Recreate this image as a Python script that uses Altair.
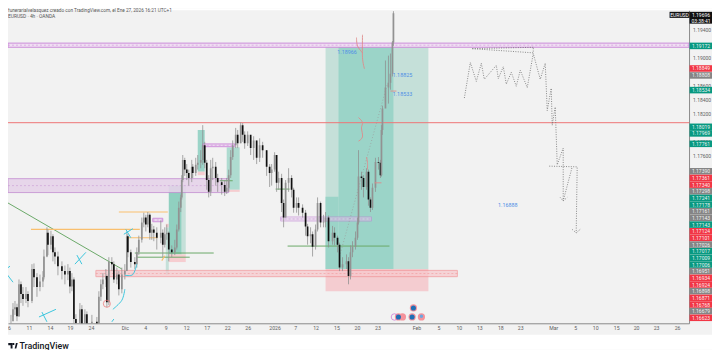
import altair as alt
import pandas as pd

FONT = "Roboto"

# ---------- scale extents ----------
slot_domain = [8, 690]
price_domain = [1.15179, 1.19683]

# ---------- time axis ----------
tick_slots = [9, 29, 50, 70, 91, 125, 145.5, 166, 186.5, 207, 227.5, 248, 275, 295.5, 316, 337, 357.5, 378,
              417, 439, 459.5, 480, 501, 521, 554, 576, 596, 617, 637, 657, 678]
tick_labels = ["6", "11", "14", "19", "24", "Dic", "4", "9", "12", "17", "22", "26", "2026", "7", "12", "15", "20", "23",
               "Feb", "5", "10", "13", "18", "23", "Mar", "5", "10", "15", "20", "23", "26"]
price_ticks = [1.194, 1.19, 1.186, 1.184, 1.182, 1.178, 1.176]

# ---------- candles ----------
candle_x = [11, 13, 15, 17, 19, 21, 23, 26, 28, 32, 34, 37, 40, 43, 44, 47, 48, 51, 53, 55, 58, 62, 65, 68, 70, 72, 74, 76,
            80, 82, 85, 87, 92, 97, 99, 101, 103, 106, 107, 109, 112, 114, 117, 119, 122, 125,
            127, 128, 131, 135, 137, 139, 142, 144, 146, 148, 150, 152, 154, 157, 161, 163, 165, 167, 169, 172, 175, 177,
            179, 181, 182, 183, 185, 187, 189, 192, 193, 196, 198, 201, 203, 205, 207, 209, 211, 213, 216, 218, 222, 225,
            227, 229, 231, 233, 236, 238, 241, 243, 245, 248, 251, 254, 257, 260, 263, 267, 270, 272, 275, 277, 279, 282,
            284, 286, 289, 292, 294, 297, 299, 303, 306, 308, 311, 313, 316, 318, 321, 324, 326, 329, 333, 335, 338, 340,
            343, 347, 349, 351, 353, 356, 358, 359, 362, 364, 367, 369, 371, 373, 376, 379, 381, 382, 383, 386, 389, 391,
            393, 394]
candle_close = [1.1521, 1.1538, 1.1541, 1.1528, 1.1574, 1.1560, 1.1553, 1.1560, 1.1550, 1.1596, 1.1584, 1.1570, 1.1578, 1.1584,
                1.1614, 1.1648, 1.1631, 1.1643, 1.1620, 1.1614, 1.1600, 1.1593, 1.1588, 1.1593, 1.1571, 1.1581, 1.1524, 1.1518,
                1.1538, 1.1517, 1.1531, 1.1513, 1.1520, 1.1514, 1.1556, 1.1574, 1.1581, 1.1586, 1.1548, 1.1606, 1.1603, 1.1581,
                1.1588, 1.1567, 1.1588, 1.1593,
                1.1643, 1.1620, 1.1606, 1.1603, 1.1620, 1.1638, 1.1663, 1.1670, 1.1660, 1.1674, 1.1648, 1.1653, 1.1648, 1.1641,
                1.1648, 1.1631, 1.1646, 1.1648, 1.1624, 1.1620, 1.1627, 1.1653, 1.1684, 1.1699, 1.1724, 1.1753, 1.1739, 1.1734,
                1.1727, 1.1743, 1.1734, 1.1746, 1.1749, 1.1753, 1.1774, 1.1749, 1.1724, 1.1707, 1.1741, 1.1743, 1.1727, 1.1721,
                1.1717, 1.1707, 1.1713, 1.1731, 1.1757, 1.1774, 1.1789, 1.1777, 1.1803, 1.1789, 1.1777, 1.1789, 1.1770, 1.1781,
                1.1756, 1.1774, 1.1767, 1.1743, 1.1734, 1.1739, 1.1760, 1.1720, 1.1727, 1.1691, 1.1670, 1.1720, 1.1727, 1.1710,
                1.1684, 1.1691, 1.1684, 1.1677, 1.1657, 1.1643, 1.1646, 1.1628, 1.1653, 1.1691, 1.1663, 1.1664, 1.1670, 1.1636,
                1.1648, 1.1641, 1.1631, 1.1598, 1.1603, 1.1607, 1.1586, 1.1620, 1.1628, 1.1641, 1.1663, 1.1729, 1.1727, 1.1714,
                1.1736, 1.1696, 1.1684, 1.1713, 1.1750, 1.1749, 1.1731, 1.1796, 1.1827, 1.1857, 1.1864, 1.1877, 1.1922, 1.1964]
candle_high = [1.1530, 1.1547, 1.1550, 1.1546, 1.1581, 1.1578, 1.1570, 1.1570, 1.1564, 1.1603, 1.1604, 1.1590, 1.1588, 1.1593,
               1.1624, 1.1656, 1.1653, 1.1651, 1.1646, 1.1627, 1.1621, 1.1607, 1.1601, 1.1603, 1.1598, 1.1590, 1.1584, 1.1531,
               1.1547, 1.1544, 1.1538, 1.1535, 1.1530, 1.1527, 1.1564, 1.1581, 1.1590, 1.1596, 1.1588, 1.1613, 1.1613, 1.1607,
               1.1598, 1.1593, 1.1598, 1.1603,
               1.1650, 1.1646, 1.1624, 1.1613, 1.1627, 1.1644, 1.1670, 1.1677, 1.1674, 1.1678, 1.1676, 1.1661, 1.1658, 1.1656,
               1.1666, 1.1653, 1.1656, 1.1660, 1.1650, 1.1630, 1.1638, 1.1660, 1.1693, 1.1703, 1.1731, 1.1760, 1.1756, 1.1747,
               1.1739, 1.1753, 1.1747, 1.1756, 1.1760, 1.1767, 1.1803, 1.1779, 1.1753, 1.1731, 1.1753, 1.1756, 1.1750, 1.1733,
               1.1727, 1.1724, 1.1727, 1.1739, 1.1767, 1.1781, 1.1799, 1.1796, 1.1807, 1.1806, 1.1794, 1.1794, 1.1786, 1.1787,
               1.1781, 1.1784, 1.1779, 1.1767, 1.1747, 1.1747, 1.1764, 1.1760, 1.1736, 1.1733, 1.1696, 1.1724, 1.1741, 1.1731,
               1.1713, 1.1699, 1.1699, 1.1689, 1.1681, 1.1661, 1.1656, 1.1650, 1.1660, 1.1699, 1.1693, 1.1674, 1.1678, 1.1673,
               1.1658, 1.1656, 1.1644, 1.1634, 1.1613, 1.1617, 1.1613, 1.1630, 1.1636, 1.1650, 1.1670, 1.1767, 1.1736, 1.1731,
               1.1741, 1.1739, 1.1699, 1.1719, 1.1756, 1.1757, 1.1753, 1.1803, 1.1831, 1.1896, 1.1903, 1.1906, 1.1924, 1.1967]
candle_low = [1.1510, 1.1527, 1.1530, 1.1521, 1.1527, 1.1547, 1.1543, 1.1547, 1.1541, 1.1547, 1.1570, 1.1556, 1.1564, 1.1570,
              1.1581, 1.1613, 1.1616, 1.1624, 1.1607, 1.1603, 1.1587, 1.1581, 1.1574, 1.1580, 1.1561, 1.1564, 1.1515, 1.1510,
              1.1513, 1.1510, 1.1513, 1.1510, 1.1510, 1.1510, 1.1510, 1.1550, 1.1567, 1.1570, 1.1541, 1.1544, 1.1593, 1.1576,
              1.1574, 1.1558, 1.1561, 1.1581,
              1.1593, 1.1613, 1.1598, 1.1596, 1.1598, 1.1616, 1.1634, 1.1656, 1.1650, 1.1656, 1.1638, 1.1638, 1.1636, 1.1624,
              1.1633, 1.1613, 1.1627, 1.1638, 1.1607, 1.1613, 1.1616, 1.1624, 1.1650, 1.1678, 1.1696, 1.1721, 1.1730, 1.1724,
              1.1716, 1.1721, 1.1727, 1.1730, 1.1739, 1.1741, 1.1746, 1.1741, 1.1710, 1.1699, 1.1701, 1.1724, 1.1716, 1.1707,
              1.1703, 1.1701, 1.1704, 1.1707, 1.1727, 1.1753, 1.1770, 1.1770, 1.1777, 1.1779, 1.1769, 1.1773, 1.1760, 1.1753,
              1.1747, 1.1750, 1.1756, 1.1730, 1.1714, 1.1716, 1.1736, 1.1707, 1.1710, 1.1678, 1.1656, 1.1670, 1.1707, 1.1699,
              1.1677, 1.1677, 1.1673, 1.1670, 1.1644, 1.1631, 1.1633, 1.1614, 1.1624, 1.1650, 1.1656, 1.1656, 1.1656, 1.1627,
              1.1631, 1.1630, 1.1620, 1.1593, 1.1593, 1.1596, 1.1574, 1.1581, 1.1613, 1.1624, 1.1638, 1.1660, 1.1710, 1.1699,
              1.1710, 1.1687, 1.1678, 1.1681, 1.1707, 1.1739, 1.1727, 1.1729, 1.1789, 1.1836, 1.1834, 1.1854, 1.1873, 1.1917]

# ---------- boxes: x, x2, top, bottom, fill ----------
box_x = [326, 339, 326, 326, 166, 166, 169, 182, 169, 198, 198, 227, 227]
box_x2 = [429, 394, 339, 429, 169, 169, 182, 186, 186, 205, 205, 240, 240]
box_top = [1.1915, 1.1915, 1.1700, 1.1596, 1.1656, 1.1661, 1.1716, 1.1716, 1.1617, 1.1796, 1.1736, 1.1771, 1.1710]
box_bot = [1.1596, 1.1596, 1.1596, 1.1564, 1.1588, 1.1656, 1.1617, 1.1617, 1.1606, 1.1736, 1.1731, 1.1710, 1.1707]
box_fill = ["#c5e0d9", "#9bd4c8", "#9bd4c8", "#f4ccd0", "#c5e0d9", "#f6cdd0", "#90d0c0", "#c5e0d9", "#f6cdd0",
            "#9bd4c8", "#f6cdd0", "#aedbd0", "#f6cdd0"]

# ---------- supply / demand zones ----------
zone_x = [8, 8, 203, 153, 281, 96]
zone_x2 = [690, 229, 235, 163, 372, 458]
zone_top = [1.1921, 1.1726, 1.1776, 1.1669, 1.1671, 1.1594]
zone_bot = [1.1915, 1.1706, 1.1772, 1.1664, 1.1665, 1.1585]
zone_mid = [1.1918, 1.1716, 1.1774, 1.16665, 1.1668, 1.15895]
zone_fill = ["#f0dff3", "#e6d3ea", "#ecd3f0", "#ecd3f0", "#e3c7ea", "#f7c9cd"]
zone_edge = ["#c77fd6", "#c490d1", "#c77fd6", "#c77fd6", "#c07fd4", "#f08f92"]
zone_alpha = [0.95, 0.9, 0.9, 0.9, 0.55, 0.75]

red_line_price = 1.18065

# ---------- drawn lines: group, x, price ----------
green_lines = [
    ([8, 122], [1.1691, 1.1596]),
    ([135, 214], [1.1619, 1.1619]),
    ([137, 190], [1.1613, 1.1613]),
    ([288, 390], [1.1629, 1.1629]),
    ([276, 290], [1.1711, 1.1711]),
    ([220, 233], [1.1723, 1.1723]),
]
orange_lines = [
    ([31, 140], [1.1653, 1.1653]),
    ([119, 168], [1.1678, 1.1678]),
    ([126, 158], [1.1641, 1.1641]),
    ([162, 165], [1.1608, 1.1615]),
]
cyan_lines = [
    ([10, 4, 13], [1.1600, 1.1594, 1.1577]),
    ([75, 86], [1.1603, 1.1620]),
    ([77, 82], [1.1616, 1.1603]),
    ([39, 56], [1.1527, 1.1538]),
    ([42, 47], [1.1534, 1.1520]),
    ([124, 133], [1.1646, 1.1654]),
    ([126, 131], [1.1653, 1.1641]),
    ([112, 114], [1.1520, 1.1524]),
]
cyan_arcs = [
    ([113, 122, 125], [1.1538, 1.1551, 1.1567]),
    ([125, 133, 137], [1.1587, 1.1588, 1.1603]),
]
red_curves = [
    ([357, 358, 363], [1.1929, 1.1917, 1.1907]),
    ([363, 363, 365], [1.1933, 1.1900, 1.1884]),
    ([359, 363, 362, 363, 359], [1.1814, 1.1807, 1.1799, 1.1786, 1.1780]),
    ([367, 368, 368], [1.1757, 1.1749, 1.1739]),
    ([391, 397], [1.1852, 1.1852]),
    ([375, 382], [1.1720, 1.1720]),
]
faint_dotted = [([340, 388], [1.1614, 1.1863])]
dark_dotted = [
    ([465, 471, 477, 482, 485, 497, 499, 504, 507, 512, 517, 521, 528, 534, 541, 546, 548, 552, 553, 556, 558, 564, 564, 573],
     [1.1842, 1.1893, 1.1866, 1.1892, 1.1869, 1.1889, 1.1870, 1.1887, 1.1862, 1.1879, 1.1859, 1.1882, 1.1857, 1.1906, 1.1869,
      1.1892, 1.1824, 1.1856, 1.1803, 1.1829, 1.1746, 1.1770, 1.1694, 1.1743]),
    ([550, 578, 577], [1.1744, 1.1743, 1.1648]),
    ([561, 564, 568], [1.1699, 1.1694, 1.1699]),
    ([573, 577, 581], [1.1653, 1.1648, 1.1653]),
    ([473, 534], [1.1913, 1.1915]),
    ([473, 534, 534], [1.1913, 1.1907, 1.1915]),
]

# ---------- drawn labels ----------
note_x = [347.5, 403, 403, 508.5]
note_price = [1.1908, 1.1875, 1.1848, 1.1688]
note_text = ["1.18966", "1.18825", "1.18533", "1.16888"]

# ---------- event markers ----------
halo_x = [414, 399, 403, 412.7, 422]
halo_price = [1.1540, 1.1527, 1.1527, 1.1527, 1.1527]
core_x = [414, 399, 412.7]
core_price = [1.1540, 1.1527, 1.1527]

# ---------- price tags ----------
tag_text = ["1.19172", "1.18849", "1.18808", "1.18534", "1.18019", "1.17969", "1.17761",
            "1.17390", "1.17361", "1.17340", "1.17298", "1.17241", "1.17178", "1.17161", "1.17143", "1.17143",
            "1.17124", "1.17101", "1.17026", "1.17017", "1.17009", "1.17006", "1.16951", "1.16934", "1.16924",
            "1.16898", "1.16871", "1.16768", "1.16679", "1.16623"]
tag_level = [1.19170, 1.18845, 1.18745, 1.18534, 1.18006, 1.17911, 1.17761,
             1.17366, 1.17270, 1.17174, 1.17078, 1.16983, 1.16887, 1.16791, 1.16695, 1.16599,
             1.16503, 1.16408, 1.16312, 1.16216, 1.16120, 1.16024, 1.15929, 1.15833, 1.15737,
             1.15641, 1.15545, 1.15449, 1.15354, 1.15258]
tag_kind = ["g", "r", "n", "g", "g", "g", "g",
            "n", "r", "r", "n", "g", "g", "n", "n", "g",
            "r", "r", "n", "g", "g", "g", "n", "r", "r",
            "n", "r", "r", "n", "r"]
tag_colors = {"g": "#089981", "r": "#f23645", "n": "#858585"}

# ---------- table building ----------
candles = pd.DataFrame({"x": candle_x, "close": candle_close, "high": candle_high, "low": candle_low})
candles["open"] = candles["close"].shift(1).fillna(candles["close"])
candles["col"] = ["#929292" if c >= o else "#111111" for c, o in zip(candles["close"], candles["open"])]

boxes = pd.DataFrame({"x": box_x, "x2": box_x2, "top": box_top, "bot": box_bot, "fill": box_fill})
zones = pd.DataFrame({"x": zone_x, "x2": zone_x2, "top": zone_top, "bot": zone_bot, "mid": zone_mid,
                      "fill": zone_fill, "edge": zone_edge, "alpha": zone_alpha})
half_tag = 0.00047
tags = pd.DataFrame({"text": tag_text, "level": tag_level})
tags["fill"] = [tag_colors[k] for k in tag_kind]
tags["top"] = tags["level"] + half_tag
tags["bot"] = tags["level"] - half_tag
tags["x"] = 690.5
tags["x2"] = 713
tags["tx"] = 702


def line_table(groups):
    rows = []
    for g, (xs_, ps) in enumerate(groups):
        for i, (x, p) in enumerate(zip(xs_, ps)):
            rows.append({"x": x, "y": p, "i": i, "g": g})
    return pd.DataFrame(rows)


xaxis = alt.Axis(values=tick_slots, title=None, grid=False, ticks=False, domainColor="#8c8c8c", domainWidth=1,
                 labelFontSize=5.2, labelColor="#5e5e5e", labelFont=FONT, labelPadding=2.5, labelOverlap=False,
                 labelFlush=False, labelBound=False,
                 labelExpr=f"{tick_labels}[indexof({tick_slots}, datum.value)]")
yaxis = alt.Axis(values=price_ticks, orient="right", title=None, grid=False, ticks=False, domainColor="#8c8c8c",
                 domainWidth=1, labelFontSize=5, labelColor="#5e5e5e", labelFont=FONT, labelPadding=3.5,
                 labelOverlap=False, labelFlush=False, labelBound=False, format=".5f")
xs = alt.Scale(domain=slot_domain, nice=False, zero=False)
ys = alt.Scale(domain=price_domain, nice=False, zero=False)
X = lambda f="x": alt.X(f"{f}:Q", scale=xs, axis=xaxis)
Y = lambda f="y": alt.Y(f"{f}:Q", scale=ys, axis=yaxis)


def lines(groups, color, width, dash=None, interp="linear", opacity=1):
    kw = {"color": color, "strokeWidth": width, "interpolate": interp, "opacity": opacity}
    if dash:
        kw["strokeDash"] = dash
    return alt.Chart(line_table(groups)).mark_line(**kw).encode(X(), Y(), detail="g:N", order=alt.Order("i:Q"))


band_rows = pd.DataFrame({"x": [8, 0], "x2": [713, 713], "top": [1.19712, 1.15013], "bot": [1.19683, 1.14798]})
bands = alt.Chart(band_rows).mark_rect(color="#ffffff").encode(X(), x2="x2:Q", y=Y("top"), y2="bot:Q")

box_layer = alt.Chart(boxes).mark_rect(strokeWidth=0).encode(
    X(), x2="x2:Q", y=Y("top"), y2="bot:Q", fill=alt.Fill("fill:N", scale=None))
zone_layer = alt.Chart(zones).mark_rect(strokeWidth=0.9).encode(
    X(), x2="x2:Q", y=Y("top"), y2="bot:Q", fill=alt.Fill("fill:N", scale=None),
    stroke=alt.Stroke("edge:N", scale=None), opacity=alt.Opacity("alpha:Q", scale=None))
zone_mid_layer = alt.Chart(zones).mark_rule(strokeWidth=0.5, strokeDash=[2, 2]).encode(
    X(), x2="x2:Q", y=Y("mid"), color=alt.Color("edge:N", scale=None))
red_line = alt.Chart(pd.DataFrame({"x": [8], "x2": [690], "y": [red_line_price]})).mark_rule(
    color="#ee7476", strokeWidth=1).encode(X(), x2="x2:Q", y=Y())

wicks = alt.Chart(candles).mark_rule(color="#8e8e8e", strokeWidth=0.9, opacity=0.85, clip=True).encode(
    X(), y=Y("high"), y2="low:Q")
bodies = alt.Chart(candles).mark_rule(strokeWidth=1.7, clip=True).encode(
    X(), y=Y("open"), y2="close:Q", color=alt.Color("col:N", scale=None))

notes = alt.Chart(pd.DataFrame({"x": note_x, "y": note_price, "t": note_text})).mark_text(
    color="#4f8fe6", fontSize=5.4, font=FONT, align="center", baseline="middle").encode(X(), Y(), text="t:N")

circle_red = alt.Chart(pd.DataFrame({"x": [107], "y": [1.1546]})).mark_point(
    shape="circle", size=50, color="#ee6f6f", strokeWidth=1, filled=False).encode(X(), Y())
halos = alt.Chart(pd.DataFrame({"x": halo_x, "y": halo_price})).mark_circle(
    size=52, color="#f4939c", opacity=1).encode(X(), Y())
ring = alt.Chart(pd.DataFrame({"x": [395], "y": [1.1527]})).mark_point(
    shape="circle", size=42, color="#c45fd0", strokeWidth=0.9, filled=False).encode(X(), Y())
cores = alt.Chart(pd.DataFrame({"x": core_x, "y": core_price})).mark_circle(
    size=26, color="#1f6fb5", opacity=1).encode(X(), Y())
soft_core = alt.Chart(pd.DataFrame({"x": [422], "y": [1.1528]})).mark_circle(
    size=12, color="#6aa7df", opacity=1).encode(X(), Y())

tag_rect = alt.Chart(tags).mark_rect(strokeWidth=0).encode(
    X(), x2="x2:Q", y=Y("top"), y2="bot:Q", fill=alt.Fill("fill:N", scale=None))
tag_txt = alt.Chart(tags).mark_text(color="#ffffff", fontSize=5, font=FONT, baseline="middle", align="center",
                                    opacity=0.9).encode(X("tx"), Y("level"), text="text:N")

# black last-price tag
live = pd.DataFrame({"x": [670.5, 690.5], "x2": [690.5, 714], "top": [1.1966, 1.1966], "bot": [1.19573, 1.1949]})
live_rect = alt.Chart(live).mark_rect(color="#111111").encode(X(), x2="x2:Q", y=Y("top"), y2="bot:Q")
live_text = alt.Chart(pd.DataFrame({"x": [680.5, 702, 702], "y": [1.1961, 1.1961, 1.1953],
                                    "t": ["EURUSD", "1.19696", "03:38:41"]})).mark_text(
    color="#ffffff", fontSize=5, font=FONT, baseline="middle", align="center").encode(X(), Y(), text="t:N")

# page texts
title_text = alt.Chart(pd.DataFrame({"t": ["funerarialvelasquez creado con TradingView.com, el Ene 27, 2026 16:21 UTC+1"]})).mark_text(
    fontSize=4.7, font=FONT, color="#555555", align="left", baseline="middle").encode(
    x=alt.value(0), y=alt.value(0.5), text="t:N")
sym_text = alt.Chart(pd.DataFrame({"t": ["EURUSD · 4h · OANDA"]})).mark_text(
    fontSize=4.9, font=FONT, color="#555555", align="left", baseline="middle").encode(
    x=alt.value(0), y=alt.value(6.5), text="t:N")
logo_text = alt.Chart(pd.DataFrame({"t": ["TradingView"]})).mark_text(
    fontSize=8.9, font=FONT, fontWeight=500, color="#131722", align="left", baseline="middle").encode(
    x=alt.value(11.5), y=alt.value(336), text="t:N")
logo_path = "M-1 -0.6 H-0.1 V0.6 H-0.5 V-0.1 H-1 Z M0.1 -0.6 a0.22 0.22 0 1 0 0.01 0 Z M0.35 0.6 L0.62 -0.6 H1 L0.7 0.6 Z"
logo_mark = alt.Chart(pd.DataFrame({"a": [1]})).mark_point(
    shape=logo_path, size=90, filled=True, color="#131722", opacity=1, strokeWidth=0).encode(
    x=alt.value(5), y=alt.value(336))

chart = alt.layer(
    box_layer, zone_layer, zone_mid_layer, red_line,
    lines(green_lines, "#6aa968", 1),
    lines(orange_lines, "#f9bf6e", 1.2),
    lines(faint_dotted, "#9a9a9a", 0.7, dash=[1, 2]),
    wicks, bodies,
    lines(cyan_lines, "#3cc6dd", 1),
    lines(cyan_arcs, "#3cc6dd", 1, interp="cardinal"),
    lines(red_curves, "#df8a8a", 0.9, interp="cardinal"),
    lines(dark_dotted, "#6e6e6e", 0.8, dash=[1, 1.4]),
    notes, circle_red, halos, ring, cores, soft_core,
    tag_rect, tag_txt, live_rect, live_text, bands,
    title_text, sym_text, logo_mark, logo_text,
).properties(
    width=682, height=313.5,
    padding={"left": 0, "top": 2, "right": 23, "bottom": 26.5},
    autosize=alt.AutoSizeParams(type="none"),
    background="#f2f2f2",
).configure_view(stroke=None)

chart.save("out.html", embed_options={"renderer": "svg", "actions": False})
